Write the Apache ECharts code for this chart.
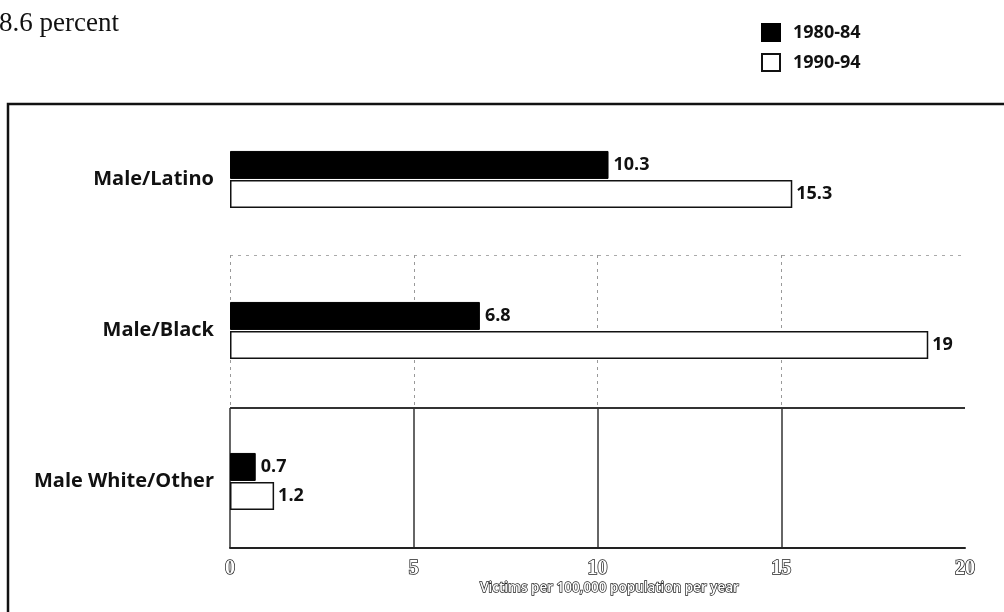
<!DOCTYPE html>
<html>
<head>
<meta charset="utf-8">
<script src="https://cdn.jsdelivr.net/npm/echarts@6/dist/echarts.min.js"></script>
<style>
html,body{margin:0;padding:0;background:#fff;}
#chart{width:1004px;height:612px;}
</style>
</head>
<body>
<div id="chart"></div>
<script>
const categories = ['Male/Latino', 'Male/Black', 'Male White/Other'];
const seriesNames = ['1980-84', '1990-94'];
const values1980 = [10.3, 6.8, 0.7];
const values1990 = [15.3, 19, 1.2];
const tickValues = [0, 5, 10, 15, 20];
const axisTitle = 'Victims per 100,000 population per year';
const headerText = '8.6 percent';

const chart = echarts.init(document.getElementById('chart'), null, {renderer: 'canvas'});
const sansBold = {fontFamily: 'Open Sans', fontWeight: 700, color: '#111'};

const option = {
  backgroundColor: '#fff',
  animation: false,
  title: {
    text: headerText, left: -6, top: 5,
    textStyle: {fontFamily: 'Liberation Serif', fontWeight: 'normal', fontSize: 27, color: '#111'}
  },
  legend: {
    data: seriesNames, orient: 'vertical', left: 756, top: 18,
    itemWidth: 18, itemHeight: 17, itemGap: 11,
    icon: 'rect',
    textStyle: Object.assign({fontSize: 18, padding: [0, 0, 0, 8]}, sansBold)
  },
  graphic: [{
    type: 'polyline', z: 10,
    shape: {points: [[8, 612], [8, 104], [1004, 104]]},
    style: {stroke: '#111', lineWidth: 2.5, fill: null}
  }],
  grid: [
    {left: 230, right: 39, top: 104, bottom: 55},
    {left: 230, right: 39, top: 255, bottom: 204},
    {left: 230, right: 39, top: 408, bottom: 64}
  ],
  xAxis: [
    {gridIndex: 0, type: 'value', min: 0, max: 20, interval: 5, show: false},
    {gridIndex: 1, type: 'value', min: 0, max: 20, interval: 5,
      axisLine: {show: false}, axisTick: {show: false}, axisLabel: {show: false},
      splitLine: {show: true, showMaxLine: false, lineStyle: {color: '#999', width: 1, type: [3, 4]}}},
    {gridIndex: 2, type: 'value', min: 0, max: 20, interval: 5,
      axisLine: {show: true, lineStyle: {color: '#222', width: 2}},
      axisTick: {show: false},
      axisLabel: {show: true, margin: 11, fontFamily: 'Liberation Serif', fontSize: 20, fontWeight: 'bold',
        color: '#fff', textBorderColor: '#222', textBorderWidth: 1.5,
        formatter: function (v) { return tickValues.indexOf(v) >= 0 ? String(v) : ''; }},
      splitLine: {show: true, showMaxLine: false, lineStyle: {color: '#333', width: 1.5}},
      name: axisTitle, nameLocation: 'middle', nameGap: 23,
      nameTextStyle: {fontFamily: 'Open Sans', fontWeight: 600, fontSize: 13.5, padding: [0, 0, 0, 24],
        color: '#fff', textBorderColor: '#222', textBorderWidth: 1.4}}
  ],
  yAxis: [
    {gridIndex: 0, type: 'category', data: categories, inverse: true,
      axisLine: {show: false}, axisTick: {show: false}, splitLine: {show: false},
      axisLabel: Object.assign({fontSize: 20, margin: 16}, sansBold)},
    {gridIndex: 1, type: 'value', min: 0, max: 1, interval: 1,
      axisLine: {show: false}, axisTick: {show: false}, axisLabel: {show: false},
      splitLine: {show: true, showMinLine: false, lineStyle: {color: '#aaa', width: 1, type: [3, 5]}}},
    {gridIndex: 2, type: 'value', min: 0, max: 1, interval: 1,
      axisLine: {show: false}, axisTick: {show: false}, axisLabel: {show: false},
      splitLine: {show: true, showMinLine: false, lineStyle: {color: '#333', width: 2}}}
  ],
  series: [
    {name: seriesNames[0], type: 'bar', xAxisIndex: 0, yAxisIndex: 0, z: 5,
      data: values1980, barWidth: 28, barGap: '4%',
      itemStyle: {color: '#000', borderColor: '#000', borderWidth: 1},
      label: Object.assign({show: true, position: 'right', distance: 5, fontSize: 18}, sansBold)},
    {name: seriesNames[1], type: 'bar', xAxisIndex: 0, yAxisIndex: 0, z: 5,
      data: values1990, barWidth: 28,
      itemStyle: {color: '#fff', borderColor: '#111', borderWidth: 1.5},
      label: Object.assign({show: true, position: 'right', distance: 4, fontSize: 18}, sansBold)}
  ]
};
chart.setOption(option);
</script>
</body>
</html>
